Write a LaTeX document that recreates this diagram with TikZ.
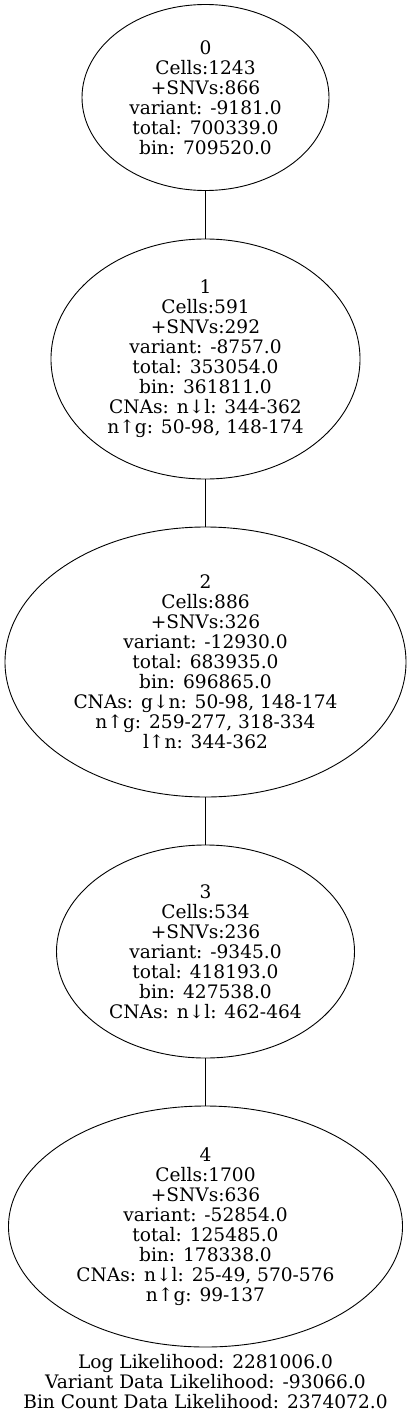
\documentclass[tikz,border=0pt]{standalone}
\usepackage{fontspec}
\setmainfont{DejaVu Serif}
\usepackage{tikz}
\usetikzlibrary{shapes.geometric}

\begin{document}
\begin{tikzpicture}[x=1pt,y=-1pt,line width=0.9pt,clone/.style={shape=ellipse,draw=black,inner sep=0pt,align=center,font=\fontsize{18.6}{20}\selectfont},info/.style={align=center,inner sep=0pt,font=\fontsize{18.6}{20}\selectfont}]
\def\cx{205.5};

\useasboundingbox (0,0) rectangle (411,1418);

\node[clone,minimum width=247,minimum height=186] (C0) at (\cx,97.5) {0\\Cells:1243\\+SNVs:866\\variant: -9181.0\\total: 700339.0\\bin: 709520.0};

\node[clone,minimum width=309,minimum height=240] (C1) at (\cx,359) {1\\Cells:591\\+SNVs:292\\variant: -8757.0\\total: 353054.0\\bin: 361811.0\\CNAs: n↓l: 344-362\\n↑g: 50-98, 148-174};
\draw (C0.south) -- (C1.north);

\node[clone,minimum width=401,minimum height=270] (C2) at (\cx,662) {2\\Cells:886\\+SNVs:326\\variant: -12930.0\\total: 683935.0\\bin: 696865.0\\CNAs: g↓n: 50-98, 148-174\\n↑g: 259-277, 318-334\\l↑n: 344-362};
\draw (C1.south) -- (C2.north);

\node[clone,minimum width=298,minimum height=213] (C3) at (\cx,951.5) {3\\Cells:534\\+SNVs:236\\variant: -9345.0\\total: 418193.0\\bin: 427538.0\\CNAs: n↓l: 462-464};
\draw (C2.south) -- (C3.north);

\node[clone,minimum width=394,minimum height=241] (C4) at (\cx,1226.5) {4\\Cells:1700\\+SNVs:636\\variant: -52854.0\\total: 125485.0\\bin: 178338.0\\CNAs: n↓l: 25-49, 570-576\\n↑g: 99-137};
\draw (C3.south) -- (C4.north);

\node[info] (L) at (\cx,1381.5) {Log Likelihood: 2281006.0\\Variant Data Likelihood: -93066.0\\Bin Count Data Likelihood: 2374072.0};
\end{tikzpicture}
\end{document}
